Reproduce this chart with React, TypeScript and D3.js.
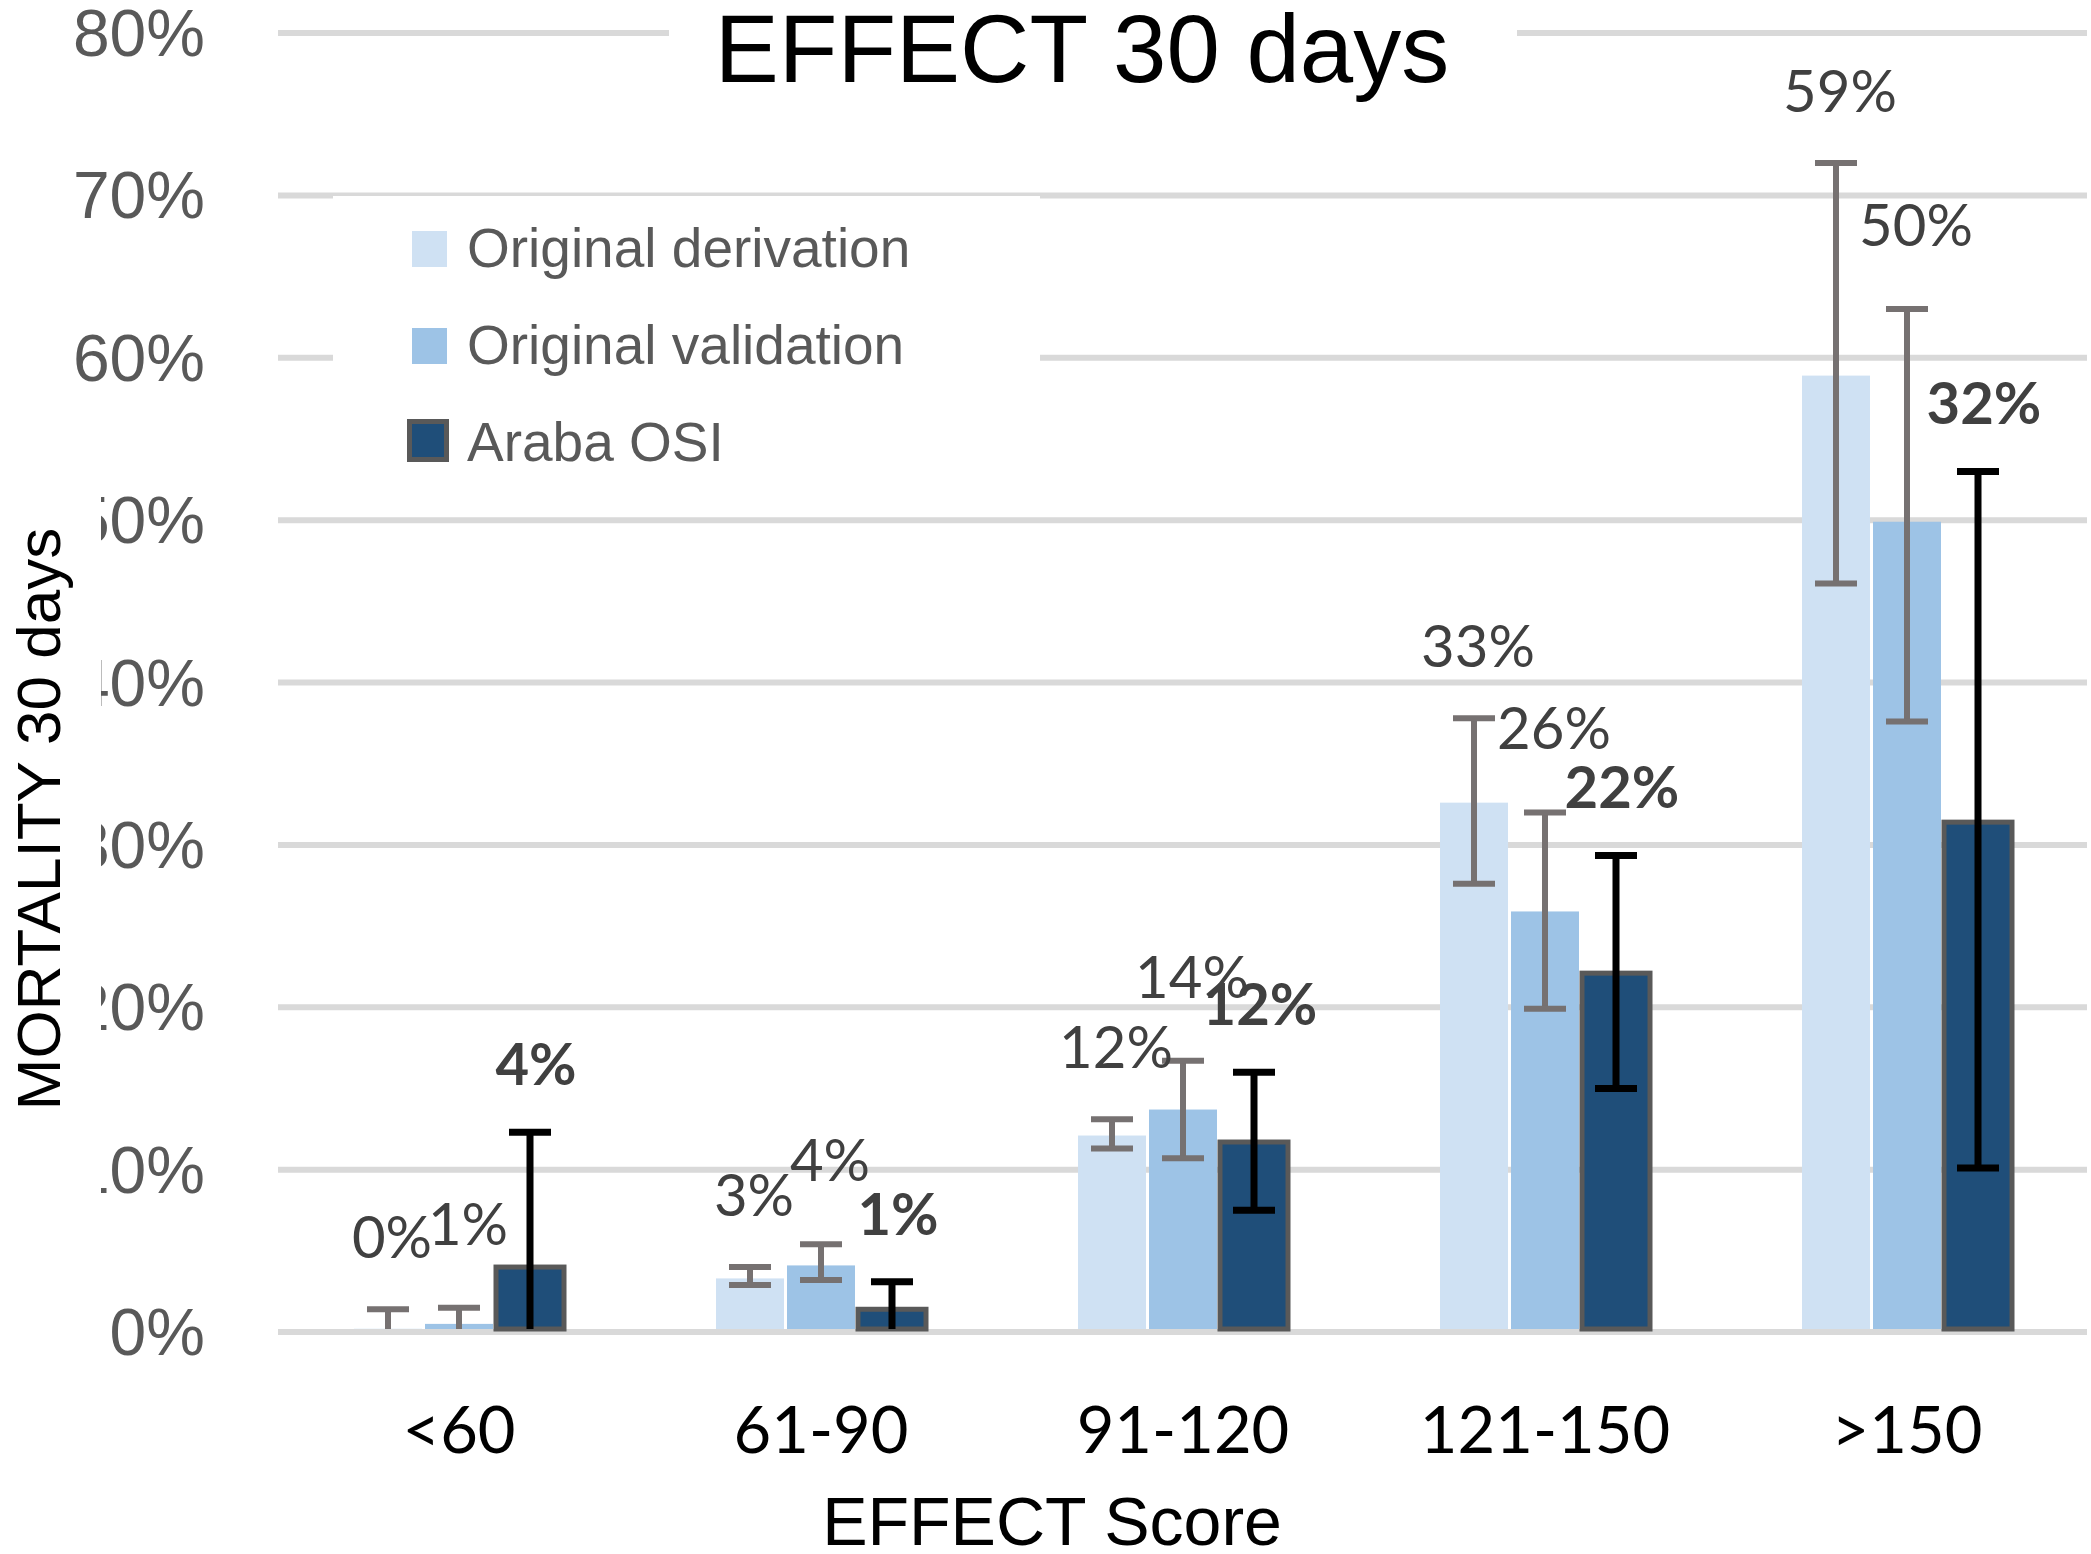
import React, { useEffect } from "react";
import * as d3 from "d3";

// ---- data (percent) ----
const categories = ["<60", "61-90", "91-120", "121-150", ">150"];
const seriesNames = ["Original derivation", "Original validation", "Araba OSI"];

const derivation = [0.2, 3.3, 12.1, 32.6, 58.9];
const validation = [0.5, 4.1, 13.7, 25.9, 49.9];
const araba = [4.0, 1.4, 11.7, 22.1, 31.4];

const derivationLo = [0, 2.9, 11.3, 27.6, 46.1];
const derivationHi = [1.4, 4.0, 13.1, 37.8, 72.0];
const validationLo = [0, 3.2, 10.7, 19.9, 37.6];
const validationHi = [1.5, 5.4, 16.7, 32.0, 63.0];
const arabaLo = [0, 0, 7.5, 15.0, 10.1];
const arabaHi = [12.3, 3.1, 16.0, 29.35, 53.0];

const derivationLabels = ["0%", "3%", "12%", "33%", "59%"];
const validationLabels = ["1%", "4%", "14%", "26%", "50%"];
const arabaLabels = ["4%", "1%", "12%", "22%", "32%"];

const yTicks = [0, 10, 20, 30, 40, 50, 60, 70, 80];

const W = 2091;
const H = 1554;

const COLORS = ["#cfe1f3", "#9dc3e6", "#1f4e79"];
const ERR_COLORS = ["#767171", "#767171", "#000000"];
// per-series label placement style (distance above the upper error cap, horizontal nudge)
const LABEL_DY = [72, 84, 68];
const LABEL_DX = [4, 9, 6];

export default function App() {
  useEffect(() => {
    document.body.style.margin = "0";
    document.body.style.background = "#ffffff";
  }, []);

  const y = d3.scaleLinear().domain([0, 80]).range([1332, 33]);
  const x = d3.scaleBand<string>().domain(categories).range([278, 2088]).paddingInner(0).paddingOuter(0);
  const inner = d3.scaleBand<number>().domain([0, 1, 2]).range([-106.5, 106.5]).padding(0);

  const series = [
    { vals: derivation, lo: derivationLo, hi: derivationHi, labels: derivationLabels },
    { vals: validation, lo: validationLo, hi: validationHi, labels: validationLabels },
    { vals: araba, lo: arabaLo, hi: arabaHi, labels: arabaLabels },
  ];

  const arial = "'Liberation Sans', Arial, Helvetica, sans-serif";
  const calibri = "Lato, 'Open Sans', sans-serif";
  const capW = 42;
  const labelFs = 58;

  return (
    <svg width={W} height={H} viewBox={`0 0 ${W} ${H}`} style={{ display: "block", background: "#fff" }}>
      <rect x={0} y={0} width={W} height={H} fill="#ffffff" />
      {/* gridlines */}
      {yTicks.map((t) => (
        <line key={"g" + t} x1={278} x2={2087} y1={y(t)} y2={y(t)} stroke="#d9d9d9" strokeWidth={6} />
      ))}
      {/* y tick labels */}
      {yTicks.map((t) => (
        <text
          key={"yt" + t}
          x={205}
          y={y(t) + 23}
          textAnchor="end"
          fontFamily={arial}
          fontSize={66}
          fill="#595959"
        >
          {t + "%"}
        </text>
      ))}
      {/* bars */}
      {series.map((s, si) =>
        categories.map((c, ci) => {
          const cx = (x(c) as number) + x.bandwidth() / 2 + (inner(si) as number);
          const bw = inner.bandwidth() - 3;
          const top = y(s.vals[ci]);
          const isA = si === 2;
          return (
            <rect
              key={`b${si}-${ci}`}
              x={cx + 1.5}
              y={top}
              width={bw}
              height={y(0) - 3 - top}
              fill={COLORS[si]}
              stroke={isA ? "#595959" : "none"}
              strokeWidth={isA ? 5 : 0}
            />
          );
        })
      )}
      {/* error bars */}
      {series.map((s, si) =>
        categories.map((c, ci) => {
          const cx = (x(c) as number) + x.bandwidth() / 2 + (inner(si) as number) + inner.bandwidth() / 2;
          const yHi = y(s.hi[ci]);
          const yLo = y(s.lo[ci]);
          const sw = si === 2 ? 7 : 6;
          const col = ERR_COLORS[si];
          const loAtZero = s.lo[ci] === 0;
          return (
            <g key={`e${si}-${ci}`} stroke={col} strokeWidth={sw}>
              <line x1={cx} x2={cx} y1={yHi} y2={loAtZero ? y(0) - 3 : yLo} />
              <line x1={cx - capW / 2} x2={cx + capW / 2} y1={yHi} y2={yHi} />
              {!loAtZero && <line x1={cx - capW / 2} x2={cx + capW / 2} y1={yLo} y2={yLo} />}
            </g>
          );
        })
      )}
      {/* data labels */}
      {series.map((s, si) =>
        categories.map((c, ci) => {
          const cx = (x(c) as number) + x.bandwidth() / 2 + (inner(si) as number) + inner.bandwidth() / 2;
          return (
            <text
              key={`l${si}-${ci}`}
              x={cx + LABEL_DX[si]}
              y={y(s.hi[ci]) - LABEL_DY[si] + 0.36 * labelFs}
              textAnchor="middle"
              fontFamily={calibri}
              fontSize={labelFs}
              fontWeight={si === 2 ? 700 : 400}
              fill="#404040"
            >
              {s.labels[ci]}
            </text>
          );
        })
      )}
      {/* x tick labels */}
      {categories.map((c) => (
        <text
          key={"xt" + c}
          x={(x(c) as number) + x.bandwidth() / 2}
          y={1453}
          textAnchor="middle"
          fontFamily={calibri}
          fontSize={65}
          fill="#000000"
        >
          {c}
        </text>
      ))}
      {/* title with white background */}
      <rect x={669} y={0} width={848} height={95} fill="#ffffff" />
      <text x={1082} y={82} textAnchor="middle" fontFamily={arial} fontSize={96} fill="#000000">
        EFFECT 30 days
      </text>
      {/* legend */}
      <rect x={333} y={196} width={707} height={284} fill="#ffffff" />
      {seriesNames.map((n, i) => {
        const top = 231 + i * 97;
        const isA = i === 2;
        return (
          <g key={"lg" + i}>
            <rect
              x={isA ? 409.5 : 412}
              y={isA ? top - 3.5 : top}
              width={isA ? 37 : 35}
              height={isA ? 38 : 36}
              fill={COLORS[i]}
              stroke={isA ? "#595959" : "none"}
              strokeWidth={isA ? 5 : 0}
            />
            <text x={467} y={267 + i * 97} fontFamily={arial} fontSize={55} fill="#595959">
              {n}
            </text>
          </g>
        );
      })}
      {/* y axis title (white backing clips tick labels) */}
      <rect x={0} y={480} width={101} height={730} fill="#ffffff" />
      <text
        transform={`translate(60, 819) rotate(-90)`}
        textAnchor="middle"
        fontFamily={arial}
        fontSize={62}
        fill="#000000"
      >
        MORTALITY 30 days
      </text>
      {/* x axis title */}
      <text x={1052} y={1545} textAnchor="middle" fontFamily={arial} fontSize={68} fill="#000000">
        EFFECT Score
      </text>
    </svg>
  );
}
